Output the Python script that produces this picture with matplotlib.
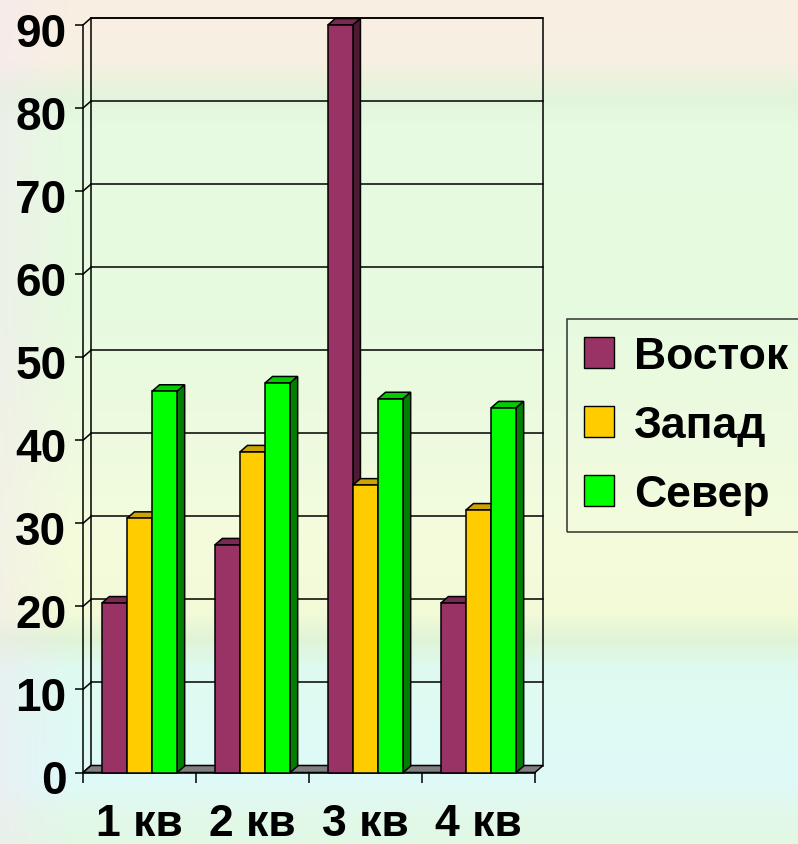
import numpy as np
import matplotlib
matplotlib.use("Agg")
import matplotlib.pyplot as plt
from matplotlib.patches import Polygon, Patch
from matplotlib.colors import to_rgb
from matplotlib.transforms import ScaledTranslation

plt.rcParams['font.family'] = ['Liberation Sans', 'DejaVu Sans']
plt.rcParams['font.weight'] = 'bold'

# ---- data ----
categories = ["1 кв", "2 кв", "3 кв", "4 кв"]
series_names = ["Восток", "Запад", "Север"]
vostok = [20.4, 27.4, 90, 20.4]
zapad = [30.6, 38.6, 34.6, 31.6]
sever = [45.9, 46.9, 45, 43.9]
y_ticks = [0, 10, 20, 30, 40, 50, 60, 70, 80, 90]

series = [vostok, zapad, sever]
front_colors = ["#993366", "#FFCC00", "#00FF00"]
top_colors = ["#7A2952", "#CCA300", "#00CC00"]
side_colors = ["#4D1A33", "#806600", "#008000"]

W, H, DPI = 798, 845, 100
fig = plt.figure(figsize=(W / DPI, H / DPI), dpi=DPI)

# ---- background gradient ----
stops = [(0, "#F8EFE2"), (60, "#F8F0E4"), (85, "#EAF3DC"), (100, "#E2F5DC"), (125, "#E6FAE2"),
         (300, "#E6FADF"), (450, "#EEFADF"), (540, "#F4FCDC"), (615, "#F2FAD8"),
         (640, "#E0F4D6"), (668, "#DEFAF0"), (780, "#DEFAF8"), (820, "#E2F8E8"),
         (845, "#E0F8E4")]
ys = np.arange(H)
sy_pos = [s[0] for s in stops]
cols = np.array([to_rgb(s[1]) for s in stops])
grad = np.stack([np.interp(ys, sy_pos, cols[:, k]) for k in range(3)], axis=1)
img = np.repeat(grad[:, None, :], W, axis=1)
left_tint = np.array(to_rgb("#F4E6F2"))
xs = np.arange(W)
wmix = np.clip(1 - xs / 70.0, 0, 1) * 0.45
img = img * (1 - wmix[None, :, None]) + left_tint[None, None, :] * wmix[None, :, None]
bg = fig.add_axes([0, 0, 1, 1], zorder=-10)
bg.imshow(img, aspect='auto', extent=(0, 1, 0, 1))
bg.axis('off')

# ---- main axes (front plane) ----
x_left, x_right = 83, 535
y_zero, y_top = 773.5, 26
ax = fig.add_axes([x_left / W, (H - y_zero) / H, (x_right - x_left) / W, (y_zero - y_top) / H])
ax.set_facecolor('none')
ncat = len(categories)
ax.set_xlim(0, ncat)
ax.set_ylim(0, 90)
for s in ax.spines.values():
    s.set_visible(False)

pxx = ncat / (x_right - x_left)
pxy = 90 / (y_zero - y_top)
dxw, dyw = 8 * pxx, 7 * pxy      # wall depth
dxb, dyb = 7.5 * pxx, 6.5 * pxy  # bar depth
lw = 1.1

floor = Polygon([(0, 0), (ncat, 0), (ncat + dxw, dyw), (dxw, dyw)], closed=True,
                facecolor="#808080", edgecolor="black", lw=lw, clip_on=False, zorder=1)
ax.add_patch(floor)
ymax = y_ticks[-1]
ax.plot([dxw, dxw, ncat + dxw, ncat + dxw], [dyw, ymax + dyw, ymax + dyw, dyw],
        color='black', lw=lw, clip_on=False, zorder=0.5)
for v in y_ticks[1:]:
    ax.plot([dxw, ncat + dxw], [v + dyw, v + dyw], color='black', lw=lw, clip_on=False, zorder=0.5)
for v in y_ticks:
    ax.plot([0, dxw], [v, v + dyw], color='black', lw=lw, clip_on=False, zorder=0.6)
ax.plot([0, 0], [0, ymax], color='black', lw=lw, clip_on=False, zorder=0.6)
ax.plot([0, ncat], [0, 0], color='black', lw=lw, clip_on=False, zorder=1.5)

bw = 1 / 4.5
z = 2
for i in range(ncat):
    for j, vals in enumerate(series):
        xc = i + 0.5 + (j - 1) * bw
        v = vals[i]
        bars = ax.bar([xc], [v], width=bw, color=front_colors[j], edgecolor='black',
                      lw=lw, zorder=z + 0.2, clip_on=False)
        r = bars[0]
        x0, x1 = r.get_x(), r.get_x() + r.get_width()
        top = Polygon([(x0, v), (x0 + dxb, v + dyb), (x1 + dxb, v + dyb), (x1, v)],
                      closed=True, facecolor=top_colors[j], edgecolor='black', lw=lw,
                      zorder=z, clip_on=False)
        side = Polygon([(x1, 0), (x1 + dxb, dyb), (x1 + dxb, v + dyb), (x1, v)],
                       closed=True, facecolor=side_colors[j], edgecolor='black', lw=lw,
                       zorder=z, clip_on=False)
        ax.add_patch(top)
        ax.add_patch(side)
        z += 1

ax.set_yticks(y_ticks)
ax.set_yticklabels([str(t) for t in y_ticks], fontsize=33, fontweight='bold')
ax.tick_params(axis='y', length=6, width=lw, pad=6, direction='out', colors='black')
for lbl in ax.get_yticklabels():
    lbl.set_transform(lbl.get_transform() + ScaledTranslation(0, -4 / DPI, fig.dpi_scale_trans))

ax.set_xticks(np.arange(ncat + 1))
ax.set_xticklabels([""] * (ncat + 1))
ax.set_xticks(np.arange(ncat) + 0.5, minor=True)
ax.set_xticklabels(categories, minor=True, fontsize=32, fontweight='bold')
ax.tick_params(axis='x', which='major', length=7, width=lw, direction='out')
ax.tick_params(axis='x', which='minor', length=0, pad=22)

handles = [Patch(facecolor=c, edgecolor='black', lw=1.0) for c in front_colors]
leg = fig.legend(handles, series_names, loc='upper left',
                 bbox_to_anchor=(567 / W, 1 - 320 / H), borderaxespad=0,
                 prop={'size': 32, 'weight': 'bold'}, handlelength=0.68,
                 handleheight=0.68, handletextpad=0.45, borderpad=0.38,
                 labelspacing=0.63, frameon=True, fancybox=False)
leg.get_frame().set_edgecolor('black')
leg.get_frame().set_facecolor('none')
leg.get_frame().set_linewidth(1.1)

fig.savefig("out.png", dpi=DPI)
